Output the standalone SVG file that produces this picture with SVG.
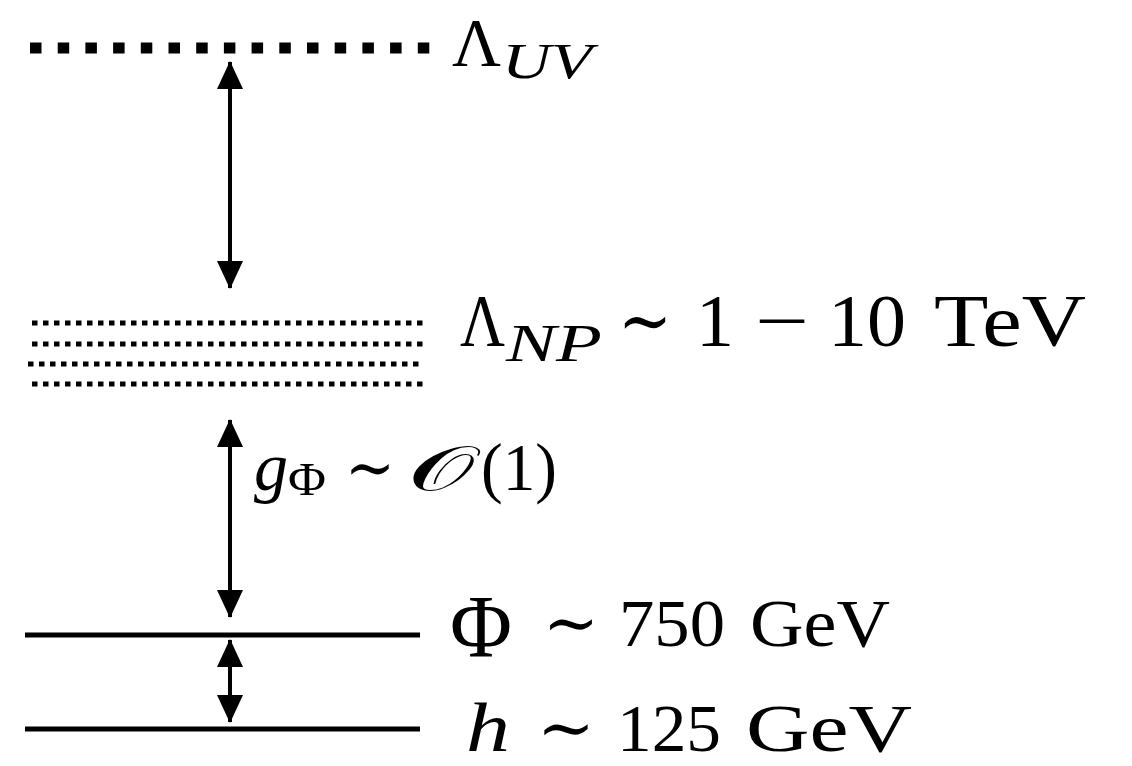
<svg xmlns="http://www.w3.org/2000/svg" width="1132" height="766" viewBox="0 0 1132 766">
<style>
.t{font-family:"Liberation Serif","DejaVu Serif",serif;fill:#000}
.i{font-style:italic}
.lvl{stroke:#000;fill:none}
.ar{stroke:#000;stroke-width:4;fill:none}
</style>
<defs>
<marker id="ah" markerUnits="userSpaceOnUse" markerWidth="28" markerHeight="30" refX="27" refY="13" orient="auto">
<path d="M0,0 L28,13 L0,26 Z" fill="#000"/>
</marker>
</defs>
<rect width="1132" height="766" fill="#fff"/>
<g id="uv">
<line class="lvl" x1="30" y1="48" x2="430" y2="48" stroke-width="11" stroke-dasharray="11.5 16.2"/>
<text class="t" x="452" y="65" font-size="68" textLength="49" lengthAdjust="spacingAndGlyphs">Λ</text>
<text class="t i" x="502" y="78" font-size="50" textLength="90" lengthAdjust="spacingAndGlyphs">UV</text>
</g>
<g id="np">
<line class="lvl" x1="32" y1="323" x2="424" y2="323" stroke-width="5" stroke-dasharray="5.5 5.5"/>
<line class="lvl" x1="32" y1="344" x2="424" y2="344" stroke-width="5" stroke-dasharray="5.5 5.5"/>
<line class="lvl" x1="28" y1="364" x2="420" y2="364" stroke-width="5" stroke-dasharray="5.5 5.5"/>
<line class="lvl" x1="32" y1="384" x2="424" y2="384" stroke-width="5" stroke-dasharray="5.5 5.5"/>
<text class="t" x="460" y="346" font-size="74" textLength="45" lengthAdjust="spacingAndGlyphs">Λ</text>
<text class="t i" x="506" y="361" font-size="52" textLength="96" lengthAdjust="spacingAndGlyphs">NP</text>
<text class="t" x="618" y="346" font-size="74" textLength="54" lengthAdjust="spacingAndGlyphs">∼</text>
<text class="t" x="696" y="346" font-size="74" textLength="38" lengthAdjust="spacingAndGlyphs">1</text>
<text class="t" x="755" y="346" font-size="74" textLength="54" lengthAdjust="spacingAndGlyphs">−</text>
<text class="t" x="828" y="346" font-size="74" textLength="78" lengthAdjust="spacingAndGlyphs">10</text>
<text class="t" x="934" y="346" font-size="74" textLength="152" lengthAdjust="spacingAndGlyphs">TeV</text>
</g>
<g id="phi">
<line class="lvl" x1="25" y1="635" x2="420" y2="635" stroke-width="5"/>
<text class="t" x="450" y="656" font-size="88" textLength="62" lengthAdjust="spacingAndGlyphs">Φ</text>
<text class="t" x="543" y="646" font-size="68" textLength="56" lengthAdjust="spacingAndGlyphs">∼</text>
<text class="t" x="619" y="646" font-size="68" textLength="106" lengthAdjust="spacingAndGlyphs">750</text>
<text class="t" x="750" y="646" font-size="68" textLength="140" lengthAdjust="spacingAndGlyphs">GeV</text>
</g>
<g id="h">
<line class="lvl" x1="25" y1="729" x2="420" y2="729" stroke-width="5"/>
<text class="t i" x="466" y="751" font-size="70" textLength="44" lengthAdjust="spacingAndGlyphs">h</text>
<text class="t" x="537" y="751" font-size="68" textLength="58" lengthAdjust="spacingAndGlyphs">∼</text>
<text class="t" x="617" y="751" font-size="68" textLength="104" lengthAdjust="spacingAndGlyphs">125</text>
<text class="t" x="746" y="751" font-size="68" textLength="166" lengthAdjust="spacingAndGlyphs">GeV</text>
</g>
<g id="connectors">
<line class="ar" x1="230" y1="150" x2="230" y2="62" marker-end="url(#ah)"/>
<line class="ar" x1="230" y1="150" x2="230" y2="288" marker-end="url(#ah)"/>
<line class="ar" x1="230" y1="500" x2="230" y2="420" marker-end="url(#ah)"/>
<line class="ar" x1="230" y1="500" x2="230" y2="617" marker-end="url(#ah)"/>
<line class="ar" x1="230" y1="680" x2="230" y2="640" marker-end="url(#ah)"/>
<line class="ar" x1="230" y1="680" x2="230" y2="722" marker-end="url(#ah)"/>
<text class="t i" x="254" y="490" font-size="68" textLength="34" lengthAdjust="spacingAndGlyphs">g</text>
<text class="t" x="288" y="495" font-size="46" textLength="38" lengthAdjust="spacingAndGlyphs">Φ</text>
<text class="t" x="345" y="490" font-size="66" textLength="50" lengthAdjust="spacingAndGlyphs">∼</text>
<text class="t" x="408" y="490" font-size="62" textLength="66" lengthAdjust="spacingAndGlyphs">𝒪</text>
<text class="t" x="481" y="490" font-size="68" textLength="76" lengthAdjust="spacingAndGlyphs">(1)</text>
</g>
</svg>
